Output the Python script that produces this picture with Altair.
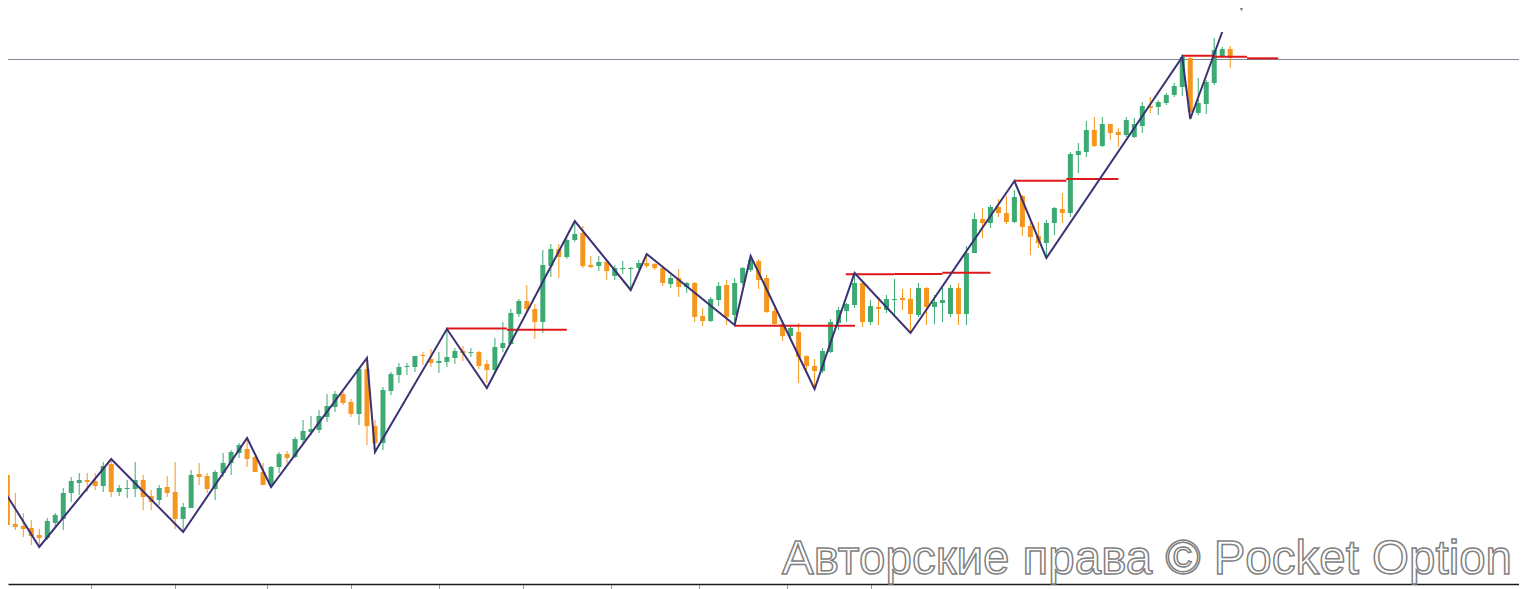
import altair as alt
import pandas as pd

# ---- candle data (price in points), index = candle number ----
open_ = [125, 76, 74, 72, 65, 62, 77, 81, 107, 117,
         120, 119, 114, 136, 108, 111, 111, 120, 104, 100,
         113, 108, 81, 92, 126, 124, 111, 127, 137, 147,
         151, 143, 128, 115, 133, 146, 143, 160, 168, 170,
         183, 193, 206, 198, 186, 231, 174, 157, 209, 225,
         233, 233, 245, 241, 237, 238, 242, 249, 247, 248,
         236, 230, 252, 256, 286, 299, 291, 278, 334, 351,
         343, 360, 367, 335, 334, 338, 324, 331, 331, 332,
         337, 336, 332, 316, 322, 313, 317, 284, 279, 300,
         315, 285, 317, 330, 339, 322, 289, 276, 264, 268,
         244, 234, 229, 248, 277, 289, 295, 317, 278, 293,
         290, 300, 302, 301, 285, 312, 293, 297, 286, 312,
         286, 347, 381, 377, 393, 387, 378, 404, 374, 364,
         357, 377, 391, 387, 445, 448, 470, 454, 476, 468,
         465, 463, 474, 494, 493, 497, 505, 513, 542, 487,
         496, 517, 544, 551]
high = [130, 107, 87, 80, 71, 82, 87, 112, 123, 127,
        127, 127, 138, 142, 115, 120, 138, 125, 110, 115,
        124, 138, 97, 130, 137, 127, 130, 147, 150, 157,
        160, 144, 137, 134, 148, 149, 163, 180, 184, 190,
        206, 209, 208, 201, 232, 240, 180, 213, 228, 237,
        237, 244, 248, 251, 248, 272, 252, 254, 252, 249,
        240, 262, 278, 291, 301, 315, 296, 350, 356, 356,
        362, 377, 374, 344, 344, 340, 335, 339, 333, 340,
        346, 337, 333, 325, 331, 318, 318, 292, 303, 318,
        320, 322, 333, 345, 341, 325, 292, 278, 275, 277,
        245, 241, 252, 281, 293, 297, 328, 318, 300, 303,
        305, 321, 311, 312, 317, 313, 305, 312, 315, 317,
        354, 387, 392, 395, 401, 404, 410, 405, 378, 378,
        380, 393, 407, 448, 457, 479, 483, 483, 476, 472,
        483, 482, 498, 503, 500, 507, 517, 545, 543, 522,
        520, 562, 553, 554]
low = [73, 70, 63, 55, 54, 60, 73, 70, 98, 105,
       108, 110, 108, 103, 104, 102, 103, 90, 90, 95,
       103, 71, 70, 92, 115, 107, 100, 123, 125, 142,
       133, 128, 115, 113, 127, 137, 142, 155, 165, 167,
       178, 188, 195, 183, 175, 155, 156, 150, 205, 217,
       225, 228, 235, 233, 227, 233, 236, 239, 243, 231,
       217, 228, 248, 255, 283, 288, 261, 267, 323, 322,
       341, 358, 332, 332, 329, 320, 320, 326, 312, 330,
       332, 330, 314, 312, 303, 307, 278, 274, 278, 294,
       275, 278, 315, 328, 311, 287, 275, 259, 259, 217,
       230, 212, 227, 247, 270, 278, 292, 273, 275, 275,
       287, 285, 290, 267, 283, 275, 276, 278, 283, 275,
       275, 347, 362, 372, 383, 376, 377, 364, 345, 352,
       343, 365, 377, 383, 427, 443, 453, 453, 460, 453,
       463, 462, 467, 487, 485, 495, 503, 504, 487, 485,
       486, 515, 542, 532]
close = [75, 73, 71, 64, 62, 79, 85, 107, 119, 120,
         118, 114, 134, 108, 112, 112, 120, 103, 98, 112,
         107, 81, 93, 125, 123, 111, 128, 137, 148, 155,
         141, 128, 115, 133, 146, 142, 161, 169, 171, 184,
         194, 206, 197, 186, 231, 174, 157, 210, 226, 233,
         234, 244, 244, 237, 239, 243, 249, 247, 248, 234,
         230, 253, 257, 287, 299, 291, 278, 335, 351, 343,
         360, 366, 334, 333, 338, 329, 332, 332, 332, 337,
         334, 332, 317, 322, 313, 317, 283, 279, 301, 314,
         283, 317, 332, 340, 320, 288, 276, 264, 272, 243,
         234, 229, 249, 278, 290, 296, 317, 278, 294, 291,
         301, 301, 300, 286, 312, 293, 298, 300, 312, 286,
         347, 381, 377, 393, 387, 378, 403, 373, 363, 357,
         377, 392, 387, 446, 449, 470, 454, 476, 467, 465,
         480, 476, 494, 492, 498, 505, 514, 543, 488, 497,
         518, 550, 551, 542]

# ---- zigzag pivots (candle index, price) ----
zz_index = [0, 4, 13, 22, 30, 33, 45, 46, 55, 60, 71, 78, 80, 91, 93, 101,
            106, 113, 126, 130, 147, 148, 152]
zz_price = [104, 53, 141, 68, 162, 113, 242, 148, 271, 212, 379, 310, 346,
            275, 344, 211, 327, 267, 419, 342, 543, 481, 568]

# ---- red level segments ----
lvl_start = [54.9, 62.5, 90.95, 104.9, 110.96, 116.98, 126, 132.5, 146.9, 150.9, 155.1]
lvl_end = [62.5, 70, 106.06, 110.96, 116.98, 123, 132.5, 139, 150.9, 155.1, 159]
lvl_price = [271.5, 270.3, 274.3, 325.7, 326, 327.3, 419.3, 421, 544.3, 543.3, 541.7]

current_price = [540.5]
marker_index = [154.4]
marker_price = [591.7]
tick_values = [10.5, 21, 32.5, 43, 54, 64.5, 75.5, 86.5, 97.5, 108]
watermark = "Авторские права © Pocket Option"

GREEN = "#3caa72"
ORANGE = "#f5961e"

n = len(open_)
candles = pd.DataFrame({
    "i": list(range(n)),
    "open": open_, "high": high, "low": low, "close": close,
})
candles["dir"] = ["up" if c >= o else "down" for o, c in zip(open_, close)]

zz = pd.DataFrame({"i": zz_index, "p": zz_price})
lv = pd.DataFrame({"i0": lvl_start, "i1": lvl_end, "p": lvl_price})
cur = pd.DataFrame({"p": current_price})
mk = pd.DataFrame({"i": marker_index, "p": marker_price})
wm = pd.DataFrame({"t": [watermark]})

W, H = 1511, 576
xscale = alt.Scale(domain=[0.0876, 189.13], nice=False, zero=False, padding=0)
yscale = alt.Scale(domain=[16, 592], nice=False, zero=False, padding=0)
xaxis = alt.Axis(values=tick_values, labels=False, grid=False, title=None,
                 domainColor="#1a1a1a", domainWidth=1.5, tickColor="#9a9a9a",
                 tickSize=5, tickWidth=1)
color = alt.Color("dir:N", scale=alt.Scale(domain=["up", "down"], range=[GREEN, ORANGE]),
                  legend=None)


def X(field):
    return alt.X(field, type="quantitative", scale=xscale, axis=xaxis)


def Y(field):
    return alt.Y(field, type="quantitative", scale=yscale, axis=None)


wicks = alt.Chart(candles).mark_rule(strokeWidth=1).encode(
    x=X("i"), y=Y("low"), y2="high", color=color)
bodies = alt.Chart(candles).mark_bar(size=5).encode(
    x=X("i"), y=Y("open"), y2="close", color=color)
price_line = alt.Chart(cur).mark_rule(color="#7d8a96", strokeWidth=1).encode(y=Y("p"))
levels = alt.Chart(lv).mark_rule(color="#e0181c", strokeWidth=2).encode(
    x=X("i0"), x2="i1", y=Y("p"))
zigzag = alt.Chart(zz).mark_line(color="#3b3175", strokeWidth=2).encode(
    x=X("i"), y=Y("p"))
marker = alt.Chart(mk).mark_point(shape="triangle-down", filled=True, size=45,
                                  color="#7d8fa3", opacity=1).encode(x=X("i"), y=Y("p"))
text = alt.Chart(wm).mark_text(font="Liberation Sans", fontSize=47.5, align="left",
                               baseline="alphabetic", fill="#ffffff",
                               stroke="#7f7f7f", strokeWidth=1.5).encode(
    text="t:N", x=alt.value(774), y=alt.value(566))

chart = alt.layer(price_line, wicks, bodies, levels, zigzag, marker, text).properties(
    width=W, height=H,
    autosize=alt.AutoSizeParams(type="none"),
    padding={"left": 0, "top": 0, "right": 0, "bottom": 5},
).configure_view(strokeWidth=0)

chart.save("out.html", embed_options={"renderer": "svg", "actions": False})
